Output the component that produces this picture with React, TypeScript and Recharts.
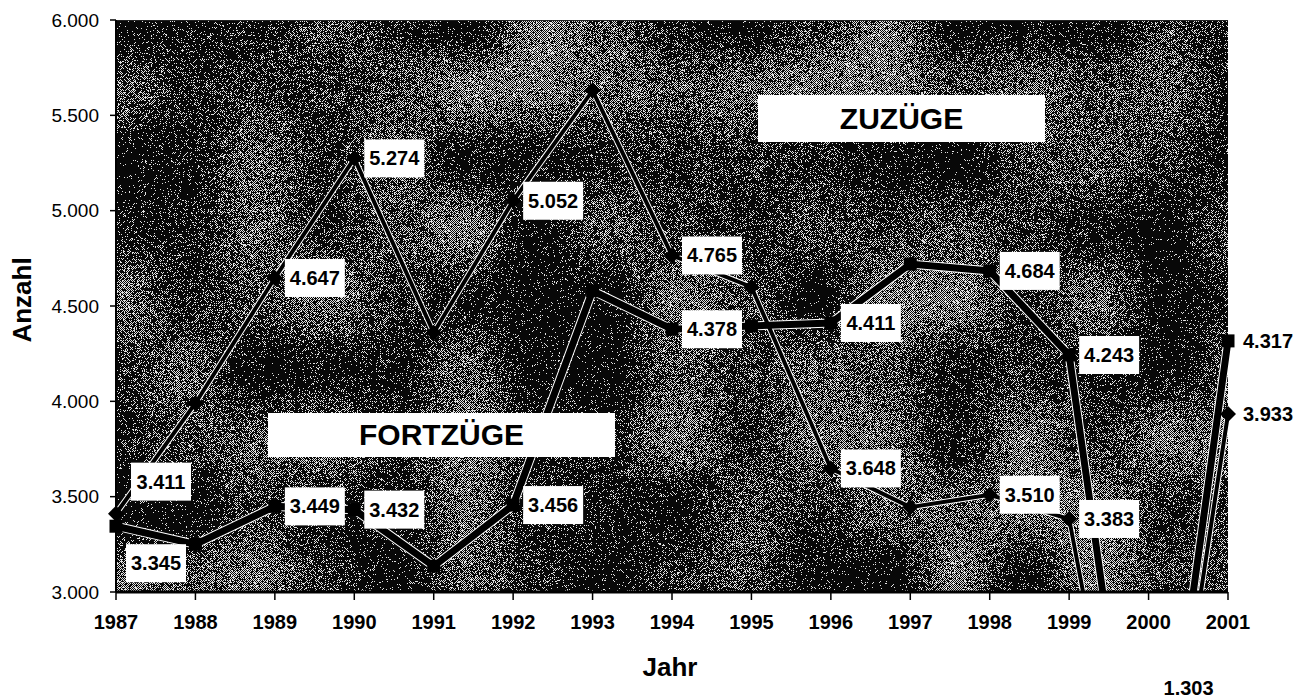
import React, { useMemo } from 'react'
import { LineChart, Line, XAxis, YAxis, CartesianGrid, LabelList, ReferenceLine } from 'recharts'

// Wanderungsbewegungen 1987-2001
const years = ['1987', '1988', '1989', '1990', '1991', '1992', '1993', '1994', '1995', '1996', '1997', '1998', '1999', '2000', '2001']
const zuzuege = [3411, 3990, 4647, 5274, 4360, 5052, 5630, 4765, 4600, 3648, 3445, 3510, 3383, 1200, 3933]
const fortzuege = [3345, 3250, 3449, 3432, 3135, 3456, 4580, 4378, 4395, 4411, 4720, 4684, 4243, 1303, 4317]

// which points carry a value label
const zuzLabeled = ['1987', '1989', '1990', '1992', '1994', '1996', '1998', '1999', '2001']
const fortLabeled = ['1987', '1989', '1990', '1992', '1994', '1996', '1998', '1999', '2000', '2001']

const yTicks = [3000, 3500, 4000, 4500, 5000, 5500, 6000]

const data = years.map((year, i) => ({ year, zuz: zuzuege[i], fort: fortzuege[i] }))

const FONT = '"Liberation Sans", Arial, sans-serif'
const W = 1300
const H = 692
const PLOT_W = 1112
const PLOT_H = 572

const fmt = (v: number) => {
  const n = Math.round(v)
  return Math.floor(n / 1000) + '.' + String(n % 1000).padStart(3, '0')
}

function hash(x: number, y: number, s: number) {
  let h = Math.imul(x, 374761393) + Math.imul(y, 668265263) + Math.imul(s, 1442695041)
  h = Math.imul(h ^ (h >>> 13), 1274126177)
  h = h ^ (h >>> 16)
  return (h >>> 0) / 4294967296
}

// scanned halftone look for the plot background
function makeDither() {
  const c = document.createElement('canvas')
  c.width = PLOT_W
  c.height = PLOT_H
  const ctx = c.getContext('2d')
  if (!ctx) return ''
  const img = ctx.createImageData(PLOT_W, PLOT_H)
  const cell = 70
  const smooth = (x: number, y: number) => {
    const gx = x / cell
    const gy = y / cell
    const x0 = Math.floor(gx)
    const y0 = Math.floor(gy)
    const fx = gx - x0
    const fy = gy - y0
    const sx = fx * fx * (3 - 2 * fx)
    const sy = fy * fy * (3 - 2 * fy)
    const a = hash(x0, y0, 7)
    const b = hash(x0 + 1, y0, 7)
    const d = hash(x0, y0 + 1, 7)
    const e = hash(x0 + 1, y0 + 1, 7)
    return (a * (1 - sx) + b * sx) * (1 - sy) + (d * (1 - sx) + e * sx) * sy
  }
  for (let y = 0; y < PLOT_H; y++) {
    for (let x = 0; x < PLOT_W; x++) {
      const s = smooth(x, y)
      const p = 0.04 + 0.46 * Math.pow(s, 1.4)
      const r = hash(x, y, 3)
      const checker = (x + y) & 1
      const white = checker ? r < p * 1.8 : r < p * 0.2
      const v = white ? 225 : 8
      const k = (y * PLOT_W + x) * 4
      img.data[k] = v
      img.data[k + 1] = v
      img.data[k + 2] = v
      img.data[k + 3] = 255
    }
  }
  ctx.putImageData(img, 0, 0)
  return c.toDataURL('image/png')
}

const Diamond = (props: any) => {
  const { cx, cy } = props
  if (cx == null || cy == null) return <g />
  const r = 8
  return <polygon points={`${cx},${cy - r} ${cx + r},${cy} ${cx},${cy + r} ${cx - r},${cy}`} fill="#000" />
}

const Square = (props: any) => {
  const { cx, cy } = props
  if (cx == null || cy == null) return <g />
  const s = 13
  return <rect x={cx - s / 2} y={cy - s / 2} width={s} height={s} fill="#000" />
}

const makeLabel = (labeled: string[], offsets: Record<string, [number, number]>) => (props: any) => {
  const vb = props.viewBox || {}
  const x = props.x ?? vb.x
  const y0 = props.y ?? vb.y
  const year = years[props.index]
  if (x == null || y0 == null || !labeled.includes(year)) return null
  const [dx, dy] = offsets[year] ?? [10, 0]
  const y = Math.min(y0 + dy, 680)
  const w = 60
  const h = 38
  return (
    <g>
      <rect x={x + dx} y={y - h / 2} width={w} height={h} fill="#fff" />
      <text
        x={x + dx + w / 2}
        y={y}
        textAnchor="middle"
        dominantBaseline="central"
        fontFamily={FONT}
        fontWeight="bold"
        fontSize={20}
        fill="#000"
      >
        {fmt(Number(props.value))}
      </text>
    </g>
  )
}

const zuzLabel = makeLabel(zuzLabeled, { '1987': [15, -32] })
const fortLabel = makeLabel(fortLabeled, { '1987': [10, 37] })

export default function App() {
  const dither = useMemo(() => makeDither(), [])

  return (
    <div style={{ position: 'relative', width: W, height: H }}>
      <LineChart width={W} height={H} data={data} margin={{ top: 12, right: 80, left: 0, bottom: 0 }}>
        <defs>
          <pattern id="dither" patternUnits="userSpaceOnUse" x={108} y={12} width={PLOT_W} height={PLOT_H}>
            <image href={dither} x={0} y={0} width={PLOT_W} height={PLOT_H} style={{ imageRendering: 'pixelated' }} />
          </pattern>
        </defs>
        <CartesianGrid horizontal={false} vertical={false} fill="url(#dither)" fillOpacity={1} />
        <XAxis
          dataKey="year"
          interval={0}
          height={108}
          padding={{ left: 0, right: 0 }}
          tickSize={8}
          tickMargin={15}
          tick={{ fontFamily: FONT, fontSize: 20, fontWeight: 'bold', fill: '#000' }}
          tickLine={{ stroke: '#000', strokeWidth: 1.5 }}
          axisLine={{ stroke: '#000', strokeWidth: 3 }}
        />
        <YAxis
          width={108}
          domain={[3000, 6000]}
          ticks={yTicks}
          allowDataOverflow
          tickFormatter={fmt}
          tickSize={6}
          tickMargin={11}
          tick={{ fontFamily: FONT, fontSize: 19, fill: '#000' }}
          tickLine={{ stroke: '#000', strokeWidth: 1.5 }}
          axisLine={{ stroke: '#000', strokeWidth: 2 }}
        />
        <ReferenceLine y={6000} stroke="#222" strokeWidth={2} ifOverflow="hidden" />

        <Line dataKey="zuz" stroke="#fff" strokeWidth={6} dot={false} activeDot={false} legendType="none" isAnimationActive={false} />
        <Line dataKey="fort" stroke="#fff" strokeWidth={9} dot={false} activeDot={false} legendType="none" isAnimationActive={false} />
        <Line dataKey="zuz" name="Zuzüge" stroke="#000" strokeWidth={4} dot={Diamond} activeDot={false} isAnimationActive={false} />
        <Line dataKey="fort" name="Fortzüge" stroke="#000" strokeWidth={7} dot={Square} activeDot={false} isAnimationActive={false} />

        <Line dataKey="zuz" stroke="none" dot={false} activeDot={false} legendType="none" isAnimationActive={false}>
          <LabelList dataKey="zuz" content={zuzLabel} />
        </Line>
        <Line dataKey="fort" stroke="none" dot={false} activeDot={false} legendType="none" isAnimationActive={false}>
          <LabelList dataKey="fort" content={fortLabel} />
        </Line>
      </LineChart>

      <div
        style={{
          position: 'absolute', left: 750, top: 87, width: 287, height: 47, background: '#fff',
          display: 'flex', alignItems: 'center', justifyContent: 'center',
          fontFamily: FONT, fontWeight: 'bold', fontSize: 30, color: '#000',
        }}
      >
        ZUZÜGE
      </div>
      <div
        style={{
          position: 'absolute', left: 260, top: 405, width: 347, height: 44, background: '#fff',
          display: 'flex', alignItems: 'center', justifyContent: 'center',
          fontFamily: FONT, fontWeight: 'bold', fontSize: 30, color: '#000',
        }}
      >
        FORTZÜGE
      </div>
      <div
        style={{
          position: 'absolute', left: 14, top: 292, transform: 'translate(-50%, -50%) rotate(-90deg)',
          fontFamily: FONT, fontWeight: 'bold', fontSize: 26, color: '#000', whiteSpace: 'nowrap',
        }}
      >
        Anzahl
      </div>
      <div
        style={{
          position: 'absolute', left: 662, top: 659, transform: 'translate(-50%, -50%)',
          fontFamily: FONT, fontWeight: 'bold', fontSize: 26, color: '#000', whiteSpace: 'nowrap',
        }}
      >
        Jahr
      </div>
    </div>
  )
}
